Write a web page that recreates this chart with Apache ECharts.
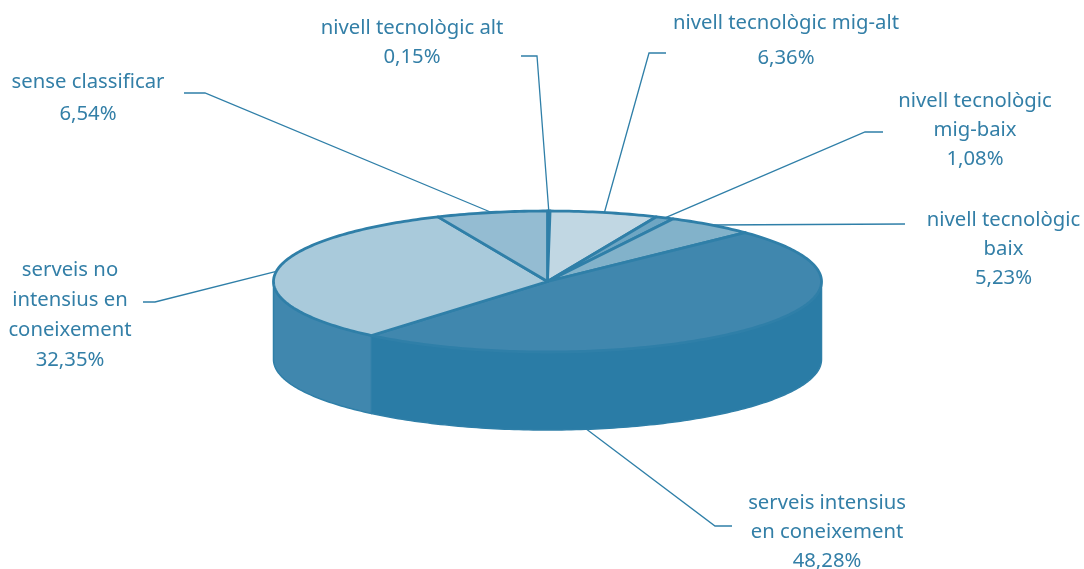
<!DOCTYPE html>
<html>
<head>
<meta charset="utf-8">
<title>Nivell tecnològic</title>
<script src="https://cdn.jsdelivr.net/npm/echarts@6/dist/echarts.min.js"></script>
<style>
  html, body { margin: 0; padding: 0; background: #fff; }
  #chart { width: 1084px; height: 569px; }
</style>
</head>
<body>
<div id="chart"></div>
<script>
// data, clockwise from the top of the pie
const categories = [
  'nivell tecnològic alt',
  'nivell tecnològic mig-alt',
  'nivell tecnològic\nmig-baix',
  'nivell tecnològic\nbaix',
  'serveis intensius\nen coneixement',
  'serveis no\nintensius en\nconeixement',
  'sense classificar'
]
const shares = [0.15, 6.36, 1.08, 5.23, 48.28, 32.35, 6.54]

// look
const topColors = ['#7fb1ca', '#c1d7e3', '#6ea6c3', '#82b2ca', '#4087ae', '#a9cadb', '#94bcd2']
const wallColors = ['#2a7ca6', '#2a7ca6', '#2a7ca6', '#2a7ca6', '#2a7ca6', '#4087ae', '#4087ae']
const lineColor = '#2f7fa8'
const textColor = '#337fa7'
const pie = { cx: 547.5, cy: 281.5, rx: 274, ry: 70.5, depth: 78 }

// label block centre + line height, leader start + knee; the leader ends on the rim at the slice's mid angle
const labelBoxes = [
  { x: 412, y: 42.5, lh: 29, from: [521, 56], knee: [537, 56] },
  { x: 786, y: 41, lh: 35, from: [666, 53], knee: [649, 53] },
  { x: 975, y: 130.5, lh: 29, from: [883, 132], knee: [865, 132] },
  { x: 1003.5, y: 249.5, lh: 29, from: [905, 224], knee: [905, 224] },
  { x: 827, y: 532.5, lh: 29, from: [732, 526], knee: [715, 526], rimAngle: 171.8, bottom: true },
  { x: 70, y: 315, lh: 30, from: [143, 302], knee: [155, 302] },
  { x: 88, y: 98, lh: 32, from: [184, 93], knee: [205, 93] }
]

const total = shares.reduce((a, b) => a + b, 0)
function startAngle(i) {
  let sum = 0
  for (let k = 0; k < i; k++) sum += shares[k]
  return sum / total * 360
}
function rim(deg, dy) {
  const t = deg * Math.PI / 180
  return [pie.cx + pie.rx * Math.sin(t), pie.cy - pie.ry * Math.cos(t) + (dy || 0)]
}
function arc(a0, a1, dy) {
  const pts = []
  const n = Math.max(2, Math.ceil(Math.abs(a1 - a0)))
  for (let k = 0; k <= n; k++) pts.push(rim(a0 + (a1 - a0) * k / n, dy))
  return pts
}

function renderWall(params, api) {
  const i = params.dataIndex
  const a0 = Math.max(startAngle(i), 90)
  const a1 = Math.min(startAngle(i) + api.value(0) / total * 360, 270)
  if (a1 <= a0) return { type: 'group', children: [] }
  const points = arc(a0, a1, 0).concat(arc(a1, a0, pie.depth))
  return {
    type: 'polygon',
    shape: { points },
    style: { fill: wallColors[i], stroke: lineColor, lineWidth: 1.5, lineJoin: 'round' }
  }
}

function renderTop(params, api) {
  const i = params.dataIndex
  const a0 = startAngle(i)
  const a1 = a0 + api.value(0) / total * 360
  const points = [[pie.cx, pie.cy]].concat(arc(a0, a1, 0))
  return {
    type: 'polygon',
    shape: { points },
    style: { fill: topColors[i], stroke: lineColor, lineWidth: 2.8, lineJoin: 'round' }
  }
}

function renderLabel(params, api) {
  const i = params.dataIndex
  const box = labelBoxes[i]
  const mid = startAngle(i) + api.value(0) / total * 180
  const end = box.bottom ? rim(box.rimAngle, pie.depth) : rim(box.rimAngle || mid, 0)
  const pct = api.value(0).toFixed(2).replace('.', ',') + '%'
  return {
    type: 'group',
    children: [
      {
        type: 'polyline',
        shape: { points: [box.from, box.knee, end] },
        style: { fill: 'none', stroke: lineColor, lineWidth: 1.3 }
      },
      {
        type: 'text',
        x: box.x,
        y: box.y,
        style: {
          text: categories[i] + '\n' + pct,
          fill: textColor,
          font: '20.3px "Noto Sans"',
          lineHeight: box.lh,
          align: 'center',
          verticalAlign: 'middle'
        }
      }
    ]
  }
}

const chart = echarts.init(document.getElementById('chart'), null, { renderer: 'canvas' })
chart.setOption({
  animation: false,
  backgroundColor: '#fff',
  series: [
    { type: 'custom', coordinateSystem: 'none', silent: true, data: shares, renderItem: renderWall, z: 1 },
    { type: 'custom', coordinateSystem: 'none', silent: true, data: shares, renderItem: renderTop, z: 2 },
    { type: 'custom', coordinateSystem: 'none', silent: true, data: shares, renderItem: renderLabel, z: 3 }
  ]
})
</script>
</body>
</html>
